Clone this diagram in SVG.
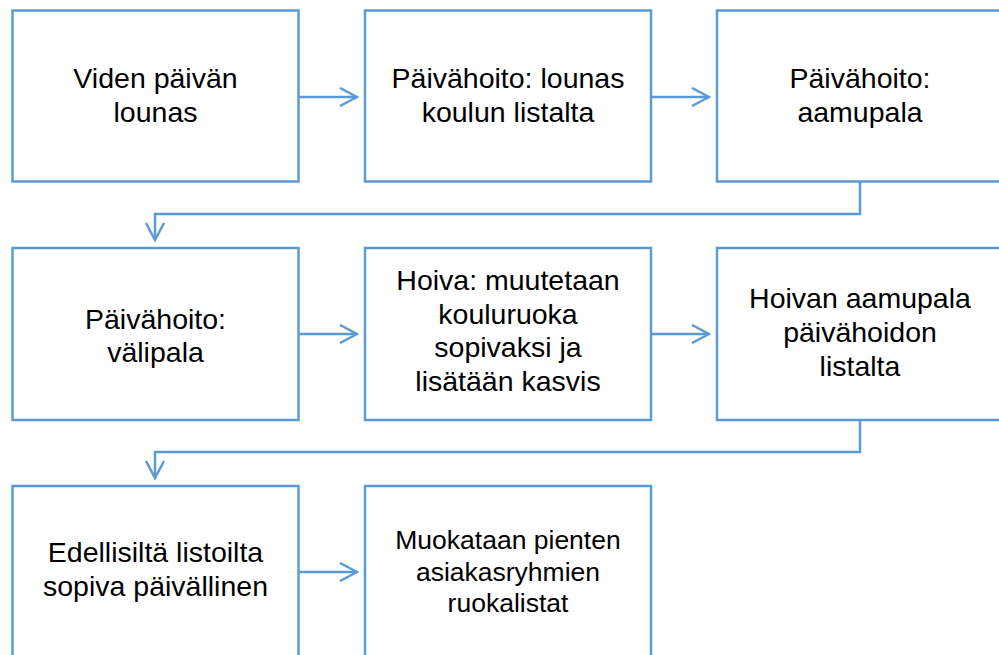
<svg xmlns="http://www.w3.org/2000/svg" width="999" height="655" viewBox="0 0 999 655">
<style>
.box{fill:#fff;stroke:#5b9bd5;stroke-width:2.5}
.t{font-family:"Liberation Sans",Arial,sans-serif;font-size:28.5px;fill:#000;text-anchor:middle}
.t.s{font-size:26.5px}
.c{fill:none;stroke:#5b9bd5;stroke-width:2.5}
</style>
<defs>
<marker id="ah" markerWidth="20" markerHeight="20" viewBox="0 0 20 20" refX="18" refY="10" orient="auto" markerUnits="userSpaceOnUse">
<path d="M1,1 L18,10 L1,19" fill="none" stroke="#5b9bd5" stroke-width="2.5"/>
</marker>
</defs>
<rect width="999" height="655" fill="#fff"/>
<g id="connectors">
<line class="c" x1="299" y1="97" x2="357" y2="97" marker-end="url(#ah)"/>
<line class="c" x1="651" y1="97" x2="709" y2="97" marker-end="url(#ah)"/>
<polyline class="c" points="860,182 860,214 155,214 155,240" marker-end="url(#ah)"/>
<line class="c" x1="299" y1="334" x2="357" y2="334" marker-end="url(#ah)"/>
<line class="c" x1="651" y1="334" x2="709" y2="334" marker-end="url(#ah)"/>
<polyline class="c" points="860,420 860,452 155,452 155,478" marker-end="url(#ah)"/>
<line class="c" x1="299" y1="572" x2="357" y2="572" marker-end="url(#ah)"/>
</g>
<g id="n1"><rect class="box" x="12.5" y="10.5" width="286" height="171"/>
<text class="t" x="155.5" y="88">Viden päivän</text><text class="t" x="155.5" y="122">lounas</text></g>
<g id="n2"><rect class="box" x="365" y="10.5" width="286" height="171"/>
<text class="t" x="508" y="88">Päivähoito: lounas</text><text class="t" x="508" y="122">koulun listalta</text></g>
<g id="n3"><rect class="box" x="717" y="10.5" width="286" height="171"/>
<text class="t" x="860" y="88">Päivähoito:</text><text class="t" x="860" y="122">aamupala</text></g>
<g id="n4"><rect class="box" x="12.5" y="248" width="286" height="172"/>
<text class="t" x="155.5" y="329">Päivähoito:</text><text class="t" x="155.5" y="362">välipala</text></g>
<g id="n5"><rect class="box" x="365" y="248" width="286" height="172"/>
<text class="t" x="508" y="290">Hoiva: muutetaan</text><text class="t" x="508" y="324">kouluruoka</text><text class="t" x="508" y="357">sopivaksi ja</text><text class="t" x="508" y="391">lisätään kasvis</text></g>
<g id="n6"><rect class="box" x="717" y="248" width="286" height="172"/>
<text class="t" x="860" y="308">Hoivan aamupala</text><text class="t" x="860" y="342">päivähoidon</text><text class="t" x="860" y="376">listalta</text></g>
<g id="n7"><rect class="box" x="12.5" y="486" width="286" height="175"/>
<text class="t" x="155.5" y="562">Edellisiltä listoilta</text><text class="t" x="155.5" y="596">sopiva päivällinen</text></g>
<g id="n8"><rect class="box" x="365" y="486" width="286" height="175"/>
<text class="t s" x="508" y="549">Muokataan pienten</text><text class="t s" x="508" y="581">asiakasryhmien</text><text class="t s" x="508" y="612">ruokalistat</text></g>
</svg>
